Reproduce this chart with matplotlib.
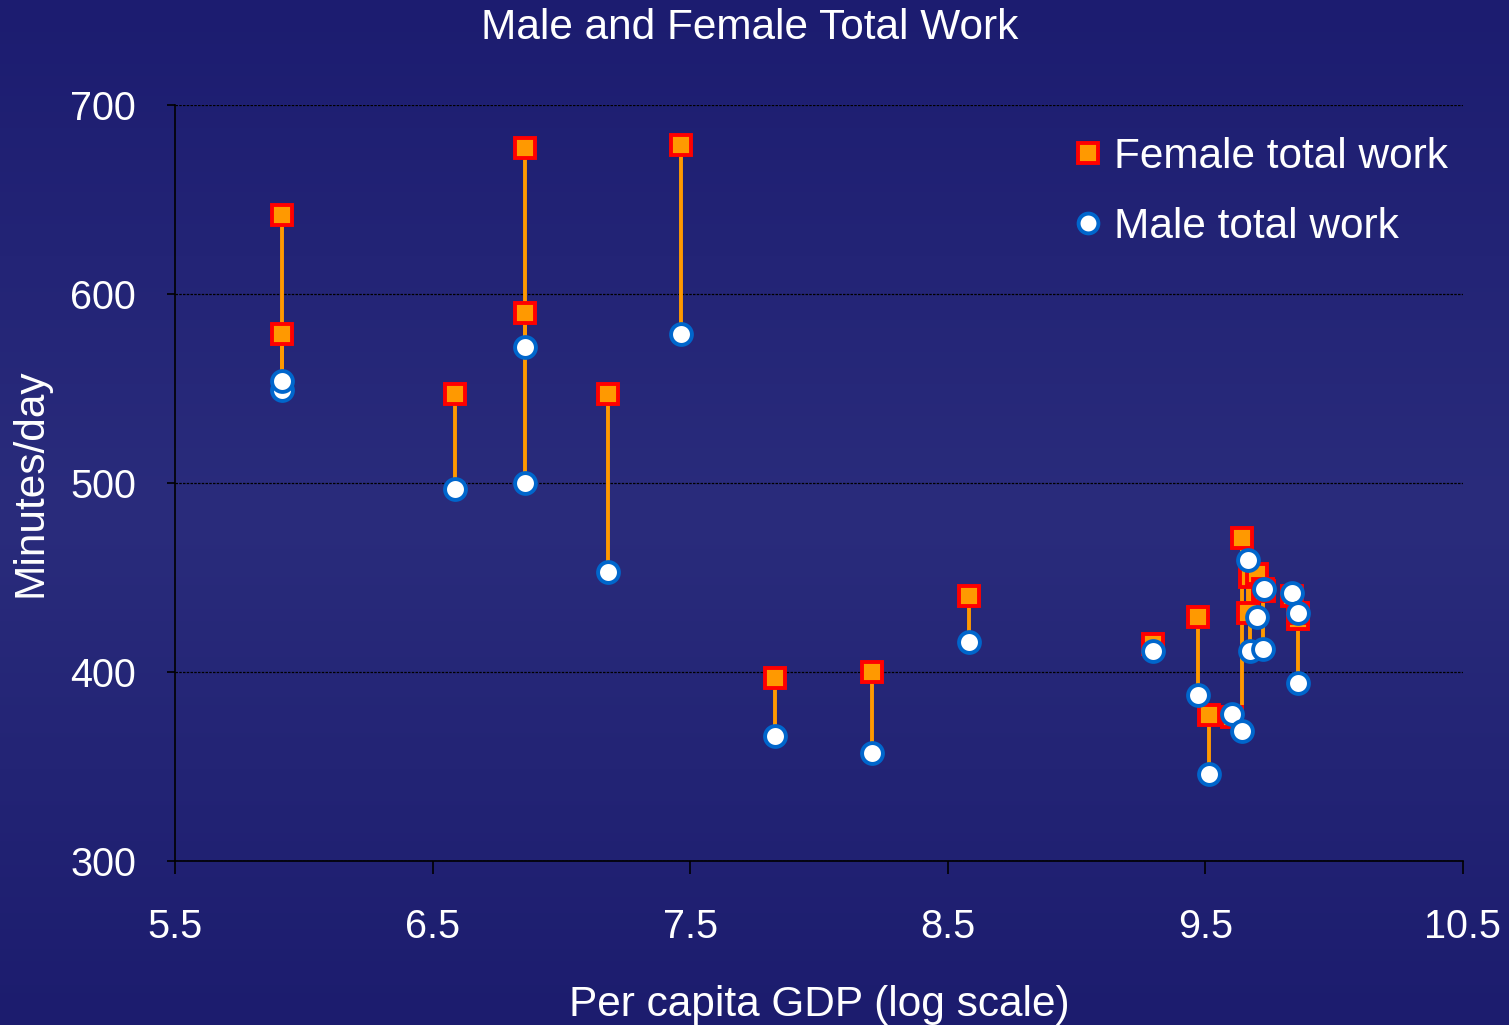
import numpy as np
import matplotlib
matplotlib.use("Agg")
import matplotlib.pyplot as plt
from matplotlib.colors import LinearSegmentedColormap

plt.rcParams['font.family'] = ['Liberation Sans', 'DejaVu Sans']

# log per-capita GDP, female and male total work (minutes/day)
gdp_log = [5.915, 5.915, 6.587, 6.859, 6.859, 7.181, 7.464, 7.829, 8.206, 8.582,
           9.297, 9.471, 9.514, 9.605, 9.644, 9.667, 9.672, 9.699, 9.725, 9.727,
           9.835, 9.861, 9.861]
female_work = [642, 579, 547, 677, 590, 547, 679, 397, 400, 440,
               415, 429, 377, 376, 471, 431, 450, 452, 444, 443,
               440, 428, 431]
male_work = [549, 554, 497, 500, 572, 453, 579, 366, 357, 416,
             411, 388, 346, 378, 369, 459, 411, 429, 412, 444,
             442, 394, 431]

fig = plt.figure(figsize=(15.09, 10.25), dpi=100)

# background gradient (dark navy, lighter in the middle)
bg = LinearSegmentedColormap.from_list("bg", ["#1c1c70", "#2a2c7c", "#1c1c6e"])
bgax = fig.add_axes([0, 0, 1, 1], zorder=-10)
bgax.imshow(np.linspace(0, 1, 256).reshape(-1, 1), aspect='auto', cmap=bg,
            extent=[0, 1, 0, 1])
bgax.axis('off')

ax = fig.add_axes([0.116, 0.16, 0.8535, 0.7376])
ax.patch.set_alpha(0)

for x, f, m in zip(gdp_log, female_work, male_work):
    ax.plot([x, x], [f, m], color='#ff9900', lw=2.8, zorder=2)

ax.plot(gdp_log, female_work, 's', ms=14.5, mfc='#ff9900', mec='#ff0000', mew=2.8,
        ls='none', zorder=3, label='Female total work')
ax.plot(gdp_log, male_work, 'o', ms=15, mfc='white', mec='#0066cc', mew=2.8,
        ls='none', zorder=4, label='Male total work')

ax.set_xlim(5.5, 10.5)
ax.set_ylim(300, 700)
ax.set_xticks([5.5, 6.5, 7.5, 8.5, 9.5, 10.5])
ax.set_xticklabels(['5.5', '6.5', '7.5', '8.5', '9.5', '10.5'])
ax.set_yticks([300, 400, 500, 600, 700])
ax.grid(axis='y', color='black', ls=(0, (2, 1)), lw=0.9)
ax.set_axisbelow(True)

for s in ['top', 'right']:
    ax.spines[s].set_visible(False)
for s in ['left', 'bottom']:
    ax.spines[s].set_color('black')
    ax.spines[s].set_linewidth(1.2)

ax.tick_params(axis='x', direction='out', length=9, width=1.2, color='black',
               labelcolor='white', labelsize=28.5, pad=25)
ax.tick_params(axis='y', direction='out', length=6, width=1.2, color='black',
               labelcolor='white', labelsize=28.5, pad=22)

ax.set_xlabel('Per capita GDP (log scale)', color='white', fontsize=30.5, labelpad=28)
ax.set_ylabel('Minutes/day', color='white', fontsize=30.5, labelpad=14)
fig.text(0.497, 0.973, 'Male and Female Total Work', color='white', fontsize=30.5,
         ha='center', va='center')

leg = ax.legend(loc='upper right', bbox_to_anchor=(1.0177, 1.008), frameon=False,
                fontsize=30.5, labelcolor='white', handlelength=0.6,
                handletextpad=0.3, labelspacing=0.7, markerscale=0.95)

fig.savefig('out.png', dpi=100)
